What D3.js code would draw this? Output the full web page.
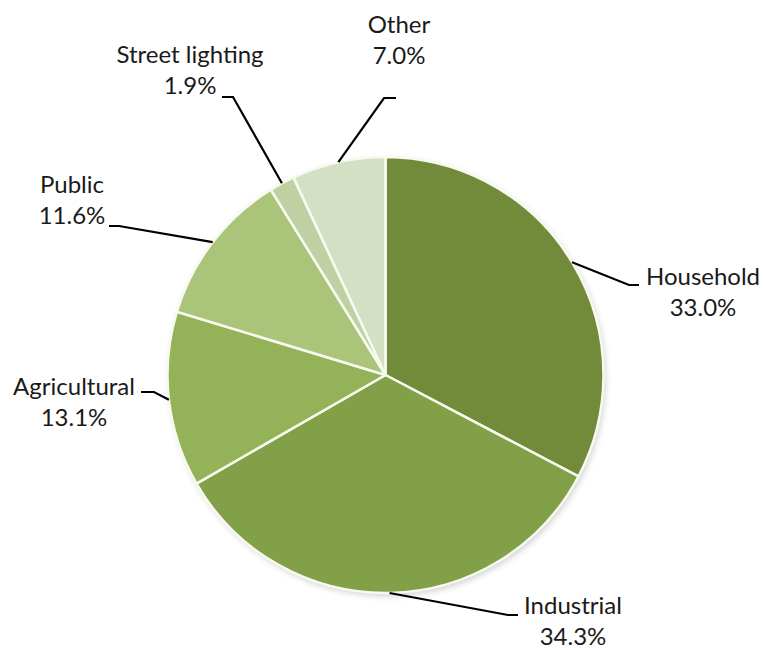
<!DOCTYPE html>
<html>
<head>
<meta charset="utf-8">
<script src="https://cdn.jsdelivr.net/npm/d3@7"></script>
<style>
  html, body { margin: 0; padding: 0; background: #ffffff; }
  svg { display: block; }
  text { font-family: Lato, "Open Sans", sans-serif; fill: #1a1a1a; }
</style>
</head>
<body>
<svg id="chart" width="764" height="650"></svg>
<script>
// Electricity consumption by sector (share, %)
const categories = ["Household", "Industrial", "Agricultural", "Public", "Street lighting", "Other"];
const shares = [33.0, 34.3, 13.1, 11.6, 1.9, 7.0];
const colors = ["#718b3a", "#82a048", "#94b257", "#aac47a", "#bfd1a3", "#d4e0c3"];

// Label placement: text centre, first baseline, leader elbow and leader end
const labelLayout = {
  "Household":       { cx: 703, y: 285, elbow: [629, 285], end: [639, 285] },
  "Industrial":      { cx: 573, y: 614, elbow: [508, 615], end: [518, 615] },
  "Agricultural":    { cx: 74,  y: 395, elbow: [154, 392], end: [141, 392] },
  "Public":          { cx: 72,  y: 193, elbow: [119, 226], end: [109, 226] },
  "Street lighting": { cx: 190, y: 63,  elbow: [233, 97],  end: [222, 97] },
  "Other":           { cx: 399, y: 33,  elbow: [384, 98],  end: [396, 98] }
};

const cx = 385.5, cy = 375, radius = 218;
const lineGap = 31;

const svg = d3.select("#chart");

// soft shadow around the pie
const defs = svg.append("defs");
const filter = defs.append("filter").attr("id", "shadow")
  .attr("x", "-10%").attr("y", "-10%").attr("width", "120%").attr("height", "120%");
filter.append("feDropShadow")
  .attr("dx", 2).attr("dy", 3).attr("stdDeviation", 3)
  .attr("flood-color", "#000").attr("flood-opacity", 0.18);

const data = categories.map((c, i) => ({ name: c, value: shares[i], color: colors[i] }));

const pie = d3.pie().value(d => d.value).sort(null);
const arcs = pie(data);
const arc = d3.arc().innerRadius(0).outerRadius(radius);

const g = svg.append("g").attr("transform", `translate(${cx},${cy})`);

g.append("circle").attr("r", radius).attr("fill", "#f6f9ee").attr("filter", "url(#shadow)");

g.selectAll("path.slice")
  .data(arcs)
  .join("path")
  .attr("class", "slice")
  .attr("d", arc)
  .attr("fill", d => d.data.color)
  .attr("stroke", "#f8faef")
  .attr("stroke-width", 2.5)
  .attr("stroke-linejoin", "round");

// leader lines from each slice's outer mid-point
const leaders = svg.append("g");
arcs.forEach(d => {
  const mid = (d.startAngle + d.endAngle) / 2;
  const sx = cx + radius * Math.sin(mid);
  const sy = cy - radius * Math.cos(mid);
  const L = labelLayout[d.data.name];
  leaders.append("polyline")
    .attr("points", [[sx, sy], L.elbow, L.end].map(p => p.join(",")).join(" "))
    .attr("fill", "none")
    .attr("stroke", "#000")
    .attr("stroke-width", 2.2);
});

// two-line labels: name and percentage
const labels = svg.append("g").attr("font-size", 24);
arcs.forEach(d => {
  const L = labelLayout[d.data.name];
  const t = labels.append("text").attr("text-anchor", "middle");
  t.append("tspan").attr("x", L.cx).attr("y", L.y).text(d.data.name);
  t.append("tspan").attr("x", L.cx).attr("y", L.y + lineGap).text(d.data.value.toFixed(1) + "%");
});
</script>
</body>
</html>
